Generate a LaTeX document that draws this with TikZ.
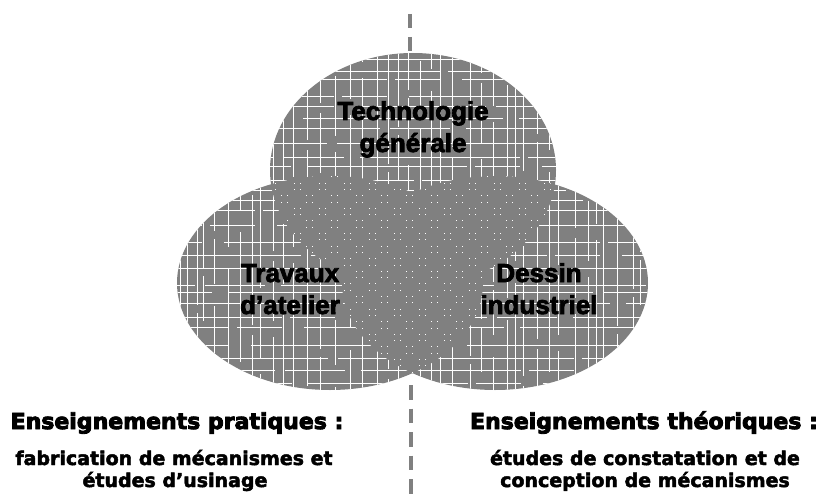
\documentclass[tikz,border=0pt]{standalone}
\usepackage{fontspec}
\newfontfamily\arialheavy[UprightFont={* Bold}, FakeBold=3]{Liberation Sans}
\newfontfamily\vtheavy[UprightFont={* Bold}, FakeBold=4]{DejaVu Sans}
\newfontfamily\vtbody[UprightFont={* Bold}, FakeBold=2.5]{DejaVu Sans}
\definecolor{vgray}{HTML}{808080}
\tikzset{
  ellabel/.style={font=\arialheavy\fontsize{26}{32}\selectfont, inner sep=0pt, anchor=base, text=black},
  headlabel/.style={font=\vtheavy\fontsize{22}{26}\selectfont, inner sep=0pt, anchor=base, text=black},
  bodylabel/.style={font=\vtbody\fontsize{19}{22}\selectfont, inner sep=0pt, anchor=base, text=black},
  dashline/.style={draw=vgray, line width=4.7pt, dash pattern=on 14pt off 9pt},
  gridline/.style={draw=white, line width=1pt, dash pattern=on 130pt off 10pt on 60pt off 16pt on 160pt off 8pt on 45pt off 22pt},
  dotmark/.style={fill=white},
}
\newcommand\EllT{(413,170) ellipse [x radius=143, y radius=117]}
\newcommand\EllL{(330,283) ellipse [x radius=153, y radius=107]}
\newcommand\EllR{(495,283) ellipse [x radius=153, y radius=107]}
\newcommand\vdotfield{%
  \foreach \dx [count=\ci] in {256,268.5,...,570} {%
    \foreach \dy [count=\cj] in {170,182.6,...,398} {%
      \pgfmathtruncatemacro\dpar{mod(\ci+\cj,2)}%
      \ifnum\dpar=0
        \fill[dotmark] (\dx,\dy) rectangle ++(0.9,0.9);
        \fill[dotmark] (\dx+6,\dy) rectangle ++(0.9,0.9);
        \fill[dotmark] (\dx,\dy+6.3) rectangle ++(0.9,0.9);
        \fill[dotmark] (\dx+6,\dy+6.3) rectangle ++(0.9,0.9);
      \fi
    }%
  }%
}
\begin{document}
\begin{tikzpicture}[x=1pt,y=-1pt]
\useasboundingbox (0,0) rectangle (820,495);
\fill[white] (0,0) rectangle (820,495);

% dashed axis
\coordinate (dtop) at (410,14);
\coordinate (dtopend) at (410,58);
\coordinate (dbot) at (411,385);
\coordinate (dbotend) at (411,496);
\draw[dashline] (dtop) -- (dtopend);
\draw[dashline, dash pattern=on 14.5pt off 9pt] (dbot) -- (dbotend);

% ellipses
\fill[vgray] \EllT;
\fill[vgray] \EllL;
\fill[vgray] \EllR;

% broken grid texture in the union
\begin{scope}
  \clip \EllT \EllL \EllR;
  \foreach \gx [count=\k] in {180,187,197,203,214,228,240,252,260,273,283,293,307,320,335,350,362,377,388,398,408,420,431,440,452,470,481,493,507,515,523,537,549,558,575,588,596,603,617,633,640,648}
    \draw[gridline, dash phase=\k*37pt] (\gx,40) -- (\gx,400);
  \foreach \gy [count=\k] in {60,72,80,97,107,118,128,143,157,166,180,190,200,210,225,242,255,268,285,292,303,317,327,345,358,370,383,390}
    \draw[gridline, dash phase=\k*53pt] (170,\gy) -- (660,\gy);
\end{scope}

% overlap regions: plain gray with dots
\begin{scope}\clip \EllT; \fill[vgray] \EllL; \end{scope}
\begin{scope}\clip \EllT; \fill[vgray] \EllR; \end{scope}
\begin{scope}\clip \EllL; \fill[vgray] \EllR; \end{scope}
\begin{scope}\clip \EllT; \clip \EllL; \vdotfield \end{scope}
\begin{scope}\clip \EllT; \clip \EllR; \vdotfield \end{scope}
\begin{scope}\clip \EllL; \clip \EllR; \vdotfield \end{scope}

% labels in the circles
\node[ellabel] (t1) at (413,120) {Technologie};
\node[ellabel] (t2) at (413,152) {générale};
\node[ellabel] (l1) at (290,282) {Travaux};
\node[ellabel] (l2) at (290,314) {d’atelier};
\node[ellabel] (r1) at (539,282) {Dessin};
\node[ellabel] (r2) at (539,314) {industriel};

% bottom texts
\node[headlabel] (hl) at (177,429) {Enseignements pratiques :};
\node[headlabel] (hr) at (644,429) {Enseignements théoriques :};
\node[bodylabel] (bl1) at (174,465) {fabrication de mécanismes et};
\node[bodylabel] (bl2) at (175,487) {études d’usinage};
\node[bodylabel] (br1) at (645,465) {études de constatation et de};
\node[bodylabel] (br2) at (645,487) {conception de mécanismes};
\end{tikzpicture}
\end{document}
